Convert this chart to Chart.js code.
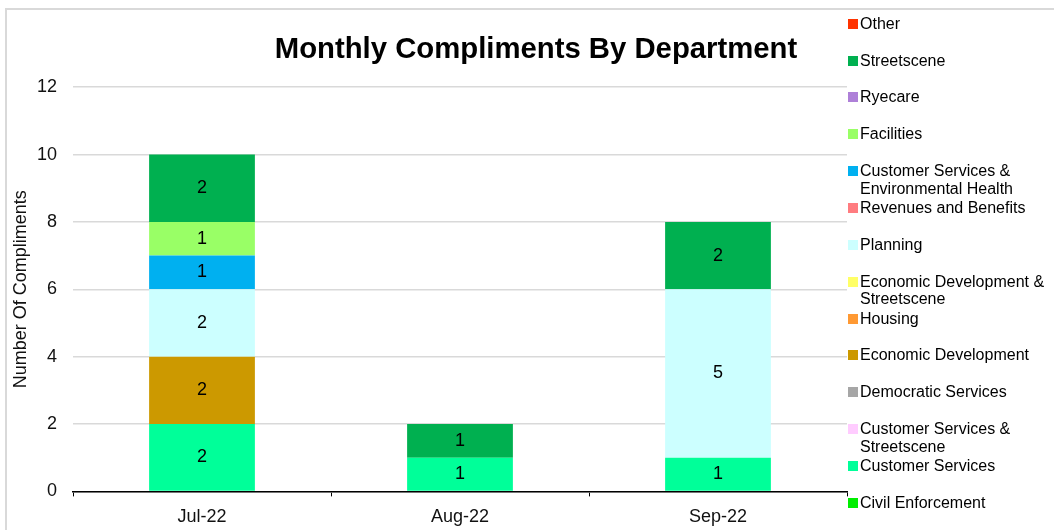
<!DOCTYPE html>
<html lang="en">
<head>
    <meta charset="UTF-8">
    <title>Monthly Compliments By Department</title>
    <script src="https://cdn.jsdelivr.net/npm/chart.js"></script>
    <style>
        body { margin: 0; width: 1054px; height: 530px; overflow: hidden; background: #fff; position: relative; font-family: "Liberation Sans", Arial, sans-serif; }
        .frame { position: absolute; left: 5px; top: 8px; width: 1100px; height: 600px; border: 2px solid #D9D9D9; box-sizing: border-box; }
        .chart-box { position: absolute; left: 0; top: 0; width: 1072px; height: 538px; }
        .legend { position: absolute; left: 848px; top: 0; }
        .legend-item { position: absolute; left: 0; width: 206px; font-size: 16px; line-height: 17.5px; color: #000; }
        .legend-item .swatch { position: absolute; left: 0; top: 4px; width: 10px; height: 10px; }
        .legend-item .label { margin-left: 12px; display: block; width: 194px; }
    </style>
</head>
<body>
    <div class="frame"></div>
    <div class="chart-box">
        <canvas id="complimentsChart"></canvas>
    </div>
    <div class="legend" id="legend"></div>

    <script>
        // Datos del gráfico
        const months = ['Jul-22', 'Aug-22', 'Sep-22'];
        const yTicks = [0, 2, 4, 6, 8, 10, 12];

        // series, from bottom of the stack upward
        const civilEnforcement = [0, 0, 0];
        const customerServices = [2, 1, 1];
        const customerServicesStreetscene = [0, 0, 0];
        const democraticServices = [0, 0, 0];
        const economicDevelopment = [2, 0, 0];
        const housing = [0, 0, 0];
        const economicDevelopmentStreetscene = [0, 0, 0];
        const planning = [2, 0, 5];
        const revenuesBenefits = [0, 0, 0];
        const customerServicesEnvHealth = [1, 0, 0];
        const facilities = [1, 0, 0];
        const ryecare = [0, 0, 0];
        const streetscene = [2, 1, 2];
        const other = [0, 0, 0];

        const seriesNames = [
            'Civil Enforcement', 'Customer Services', 'Customer Services & Streetscene',
            'Democratic Services', 'Economic Development', 'Housing',
            'Economic Development & Streetscene', 'Planning', 'Revenues and Benefits',
            'Customer Services & Environmental Health', 'Facilities', 'Ryecare',
            'Streetscene', 'Other'
        ];
        const seriesValues = [
            civilEnforcement, customerServices, customerServicesStreetscene,
            democraticServices, economicDevelopment, housing,
            economicDevelopmentStreetscene, planning, revenuesBenefits,
            customerServicesEnvHealth, facilities, ryecare,
            streetscene, other
        ];
        const seriesColors = [
            '#00EE00', '#00FF99', '#FFCCFF',
            '#A6A6A6', '#CC9900', '#FF9933',
            '#FFFF66', '#CCFFFF', '#FF7C80',
            '#00B0F0', '#99FF66', '#AE80D8',
            '#00B050', '#FF3300'
        ];

        const datasets = seriesNames.map((name, i) => ({
            label: name,
            data: seriesValues[i],
            backgroundColor: seriesColors[i],
            borderWidth: 0,
            barPercentage: 0.41,
            categoryPercentage: 1.0
        }));

        // etiquetas de valores dentro de cada segmento
        const segmentLabels = {
            id: 'segmentLabels',
            afterDatasetsDraw(chart) {
                const ctx = chart.ctx;
                ctx.save();
                ctx.font = '18px "Liberation Sans", Arial, sans-serif';
                ctx.fillStyle = '#000';
                ctx.textAlign = 'center';
                ctx.textBaseline = 'middle';
                chart.data.datasets.forEach((ds, i) => {
                    const meta = chart.getDatasetMeta(i);
                    meta.data.forEach((bar, j) => {
                        const v = ds.data[j];
                        if (!v) return;
                        ctx.fillText(String(v), bar.x, (bar.y + bar.base) / 2);
                    });
                });
                ctx.restore();
            }
        };

        const ctx = document.getElementById('complimentsChart').getContext('2d');
        new Chart(ctx, {
            type: 'bar',
            data: { labels: months, datasets: datasets },
            plugins: [segmentLabels],
            options: {
                responsive: true,
                maintainAspectRatio: false,
                animation: false,
                layout: { padding: { top: 0, left: 0, right: 0, bottom: 0 } },
                plugins: {
                    legend: { display: false },
                    tooltip: { enabled: false },
                    title: {
                        display: true,
                        text: 'Monthly Compliments By Department',
                        color: '#000',
                        font: { family: '"Liberation Sans", Arial, sans-serif', size: 29.3, weight: 'bold' },
                        padding: { top: 32, bottom: 20 }
                    }
                },
                scales: {
                    x: {
                        stacked: true,
                        grid: { display: true, drawOnChartArea: false, drawTicks: true, tickLength: 5, color: '#000' },
                        border: { color: '#000', width: 1.5 },
                        ticks: {
                            color: '#111',
                            padding: 10,
                            font: { family: '"Liberation Sans", Arial, sans-serif', size: 18 }
                        }
                    },
                    y: {
                        stacked: true,
                        min: 0,
                        max: 12,
                        afterBuildTicks(scale) {
                            scale.ticks = yTicks.map(v => ({ value: v }));
                        },
                        afterFit(scale) { scale.width = 73; },
                        grid: { color: '#D9D9D9', lineWidth: 1.5, drawTicks: false },
                        border: { display: false },
                        ticks: {
                            color: '#111',
                            padding: 16,
                            font: { family: '"Liberation Sans", Arial, sans-serif', size: 18 }
                        },
                        title: {
                            display: true,
                            text: 'Number Of Compliments',
                            color: '#111',
                            padding: { top: 10, bottom: 0 },
                            font: { family: '"Liberation Sans", Arial, sans-serif', size: 18 }
                        }
                    },
                    yRight: {
                        position: 'right',
                        display: true,
                        grid: { display: false },
                        border: { display: false },
                        ticks: { display: false },
                        afterFit(scale) { scale.width = 1072 - 847; }
                    }
                }
            }
        });

        // Leyenda en HTML (orden invertido, como en el original)
        const legendBox = document.getElementById('legend');
        for (let k = 0; k < seriesNames.length; k++) {
            const i = seriesNames.length - 1 - k;
            const item = document.createElement('div');
            item.className = 'legend-item';
            item.style.top = (23.5 + k * 36.85 - 8.75) + 'px';
            item.innerHTML = '<span class="swatch" style="background:' + seriesColors[i] + '"></span>' +
                '<span class="label"></span>';
            item.querySelector('.label').textContent = seriesNames[i];
            legendBox.appendChild(item);
        }
    </script>
</body>
</html>
